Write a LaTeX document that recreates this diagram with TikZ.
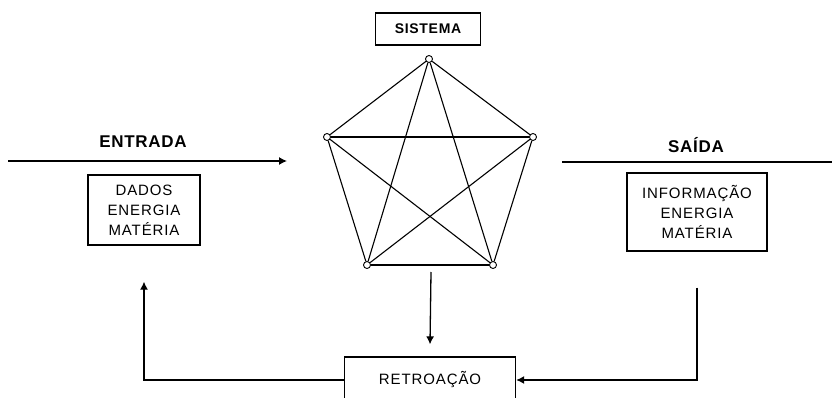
\documentclass[tikz,border=0pt]{standalone}
\usepackage{fontspec}
\setmainfont{Liberation Sans}
\usetikzlibrary{positioning,arrows.meta}

\begin{document}
\begin{tikzpicture}[x=1pt,y=-1pt,line width=1.3pt,
   box/.style={draw,align=center,inner sep=2pt,font=\fontsize{15}{20}\selectfont\addfontfeatures{LetterSpace=6}},
   lbl/.style={font=\bfseries\fontsize{17}{18}\selectfont\addfontfeatures{LetterSpace=4}},
   vtx/.style={circle,draw,fill=white,inner sep=0pt,minimum size=7pt,line width=0.9pt},
   arr/.style={-{Latex[length=8pt,width=8pt]}}]
  \useasboundingbox (0,0) rectangle (832,398);

  % the system: complete graph on five nodes
  \node[box,minimum width=105pt,minimum height=32pt,
        font=\bfseries\fontsize{14}{16}\selectfont\addfontfeatures{LetterSpace=5}] (sis) at (428,29) {SISTEMA};
  \node[vtx] (v1) at (429,59) {};
  \node[vtx] (v2) at (327,137) {};
  \node[vtx] (v3) at (533,137) {};
  \node[vtx] (v4) at (367,265) {};
  \node[vtx] (v5) at (493,265) {};
  \foreach \a/\b in {v1/v2,v1/v3,v1/v4,v1/v5,v2/v3,v2/v4,v2/v5,v3/v4,v3/v5,v4/v5}
    \draw[line width=1.1pt] (\a) -- (\b);

  % input
  \node[lbl] (ent) at (143,142) {ENTRADA};
  \coordinate (in0) at (8,161);
  \coordinate (in1) at (287,161);
  \draw[arr] (in0) -- (in1);
  \node[box,minimum width=112pt,minimum height=70pt] (dados) at (144,210) {DADOS\\ENERGIA\\MATÉRIA};

  % output
  \node[lbl] (sai) at (696,145) {SAÍDA};
  \coordinate (out0) at (562,162);
  \coordinate (out1) at (832,162);
  \draw (out0) -- (out1);
  \node[box,minimum width=140pt,minimum height=78pt] (info) at (697,212) {INFORMAÇÃO\\ENERGIA\\MATÉRIA};

  % feedback
  \node[box,minimum width=171pt,minimum height=46pt] (ret) at (430,380) {RETROAÇÃO};
  \coordinate (sisout) at (431,272);
  \draw[arr] (sisout) -- ([yshift=12pt]ret.north);
  \draw[arr] (ret.west) -| ([yshift=-36pt]dados.south);
  \draw[arr] ([yshift=-36pt]info.south) |- (ret.east);
\end{tikzpicture}
\end{document}
